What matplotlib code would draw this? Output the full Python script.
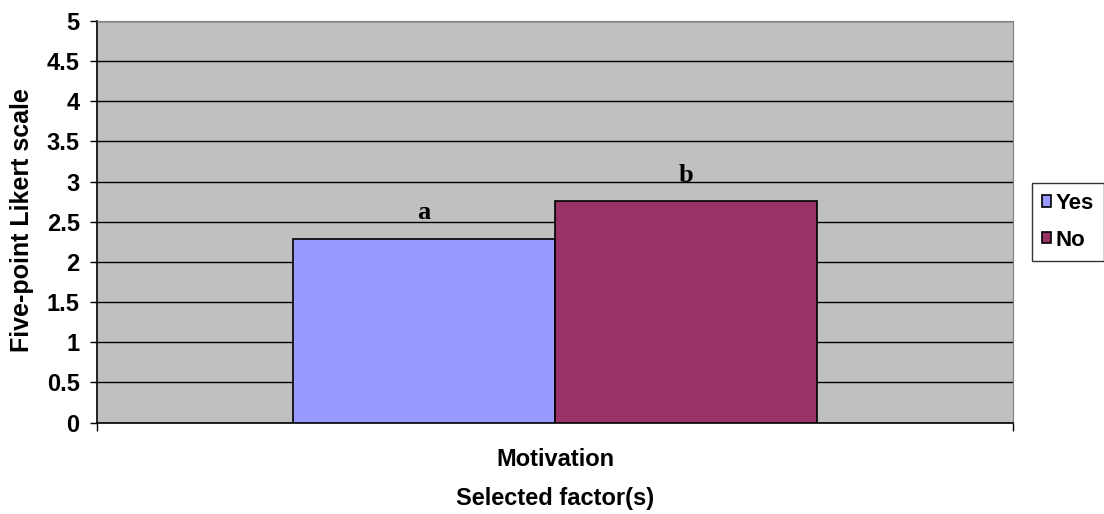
import matplotlib.pyplot as plt
import numpy as np

# datos
categorias = ['Motivation']
series = ['Yes', 'No']
valores = [2.29, 2.76]
letras = ['a', 'b']
colores = ['#9999FF', '#993366']
yticks = [0, 0.5, 1, 1.5, 2, 2.5, 3, 3.5, 4, 4.5, 5]

plt.rcParams['font.family'] = ['Liberation Sans', 'DejaVu Sans']

fig = plt.figure(figsize=(11.04, 5.14), dpi=100)
ax = fig.add_axes([97 / 1104, 1 - 422.5 / 514, (1013 - 97) / 1104, (422.5 - 21) / 514])
ax.set_facecolor('#C0C0C0')

ancho = 0.286
x = np.arange(len(categorias))
for i, (serie, v, c) in enumerate(zip(series, valores, colores)):
    pos = x + (i - 0.5) * ancho
    ax.bar(pos, v, width=ancho, color=c, edgecolor='black', linewidth=1.2,
           label=serie, zorder=3)
    ax.text(pos[0], v + 0.24, letras[i], ha='center', va='baseline',
            fontsize=19, fontweight='bold', family='Liberation Serif', zorder=4)

ax.set_xlim(-0.5, 0.5)
ax.set_ylim(0, 5)
ax.set_yticks(yticks)
ax.set_yticklabels([f'{t:g}' for t in yticks], fontsize=17, fontweight='bold')
ax.yaxis.grid(True, color='black', linewidth=1, zorder=1)
ax.set_axisbelow(True)

ax.set_xticks([-0.5, 0.5])
ax.set_xticklabels(['', ''])
ax.tick_params(axis='y', length=5, width=1, pad=7.5)
ax.tick_params(axis='x', length=5.5, width=1)
fig.text(555 / 1104, 1 - 459 / 514, categorias[0], ha='center', va='center',
         fontsize=17, fontweight='bold')

for s in ['top', 'right']:
    ax.spines[s].set_color('#808080')
for s in ['left', 'bottom']:
    ax.spines[s].set_color('black')
    ax.spines[s].set_linewidth(1.2)

fig.text(22 / 1104, 1 - 220 / 514, 'Five-point Likert scale', rotation=90,
         ha='center', va='center', fontsize=18, fontweight='bold')
fig.text(555 / 1104, 1 - 499 / 514, 'Selected factor(s)', ha='center',
         va='center', fontsize=17, fontweight='bold')

leg = ax.legend(loc='upper left', bbox_to_anchor=(1032 / 1104, 1 - 183 / 514),
                bbox_transform=fig.transFigure, frameon=True, fancybox=False,
                prop={'weight': 'bold', 'size': 16}, handlelength=0.4,
                handleheight=0.4, handletextpad=0.2, borderpad=0.45,
                labelspacing=0.7, borderaxespad=0)
leg.get_frame().set_edgecolor('black')
leg.get_frame().set_linewidth(1)

fig.savefig('out.png', dpi=100)
